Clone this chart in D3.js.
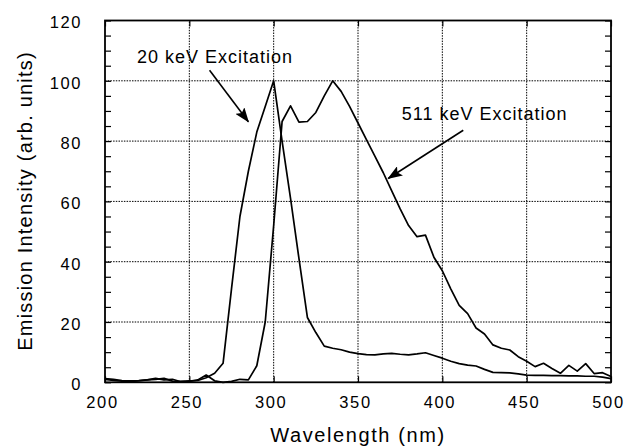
<!DOCTYPE html>
<html>
<head>
<meta charset="utf-8">
<script src="https://cdn.jsdelivr.net/npm/d3@7"></script>
<style>
  body { margin: 0; background: #fff; }
  svg { display: block; font-family: "Liberation Sans", Arial, Helvetica, sans-serif; }
</style>
</head>
<body>
<script>
// wavelength grid (nm), 5 nm steps
const wavelengths = d3.range(200, 501, 5);

// 20 keV excitation spectrum
const intensity20 = [
  1.2, 1.0, 0.6, 0.5, 0.6, 0.8, 1.0, 1.3, 0.4, 0.3,
  0.5, 0.6, 1.5, 3.0, 6.3, 31, 55, 70, 83, 91.5,
  100, 80, 61, 41, 21.5, 16.5, 12, 11.3, 10.8, 10,
  9.5, 9.2, 9.1, 9.4, 9.6, 9.3, 9.1, 9.4, 9.8, 8.9,
  8.0, 7.0, 6.2, 5.7, 5.4, 4.3, 3.3, 3.2, 3.1, 2.8,
  2.4, 2.3, 2.3, 2.2, 2.2, 2.1, 2.1, 2.0, 2.0, 1.7, 1.2
];

// 511 keV excitation spectrum
const intensity511 = [
  1.0, 0.6, 0.4, 0.3, 0.5, 0.8, 1.3, 0.8, 1.0, 0.2,
  0.3, 0.8, 2.4, 0.5, 0.0, 0.3, 1.0, 0.8, 5.5, 20,
  52, 86.5, 91.7, 86.3, 86.5, 89.5, 95, 100, 96.5, 91.5,
  86, 80.5, 75, 69.5, 63.5, 57.5, 52, 48.3, 48.8, 41.5,
  37, 31, 25.5, 22.8, 18, 16, 12.4, 11.3, 10.7, 8.5,
  7, 5.2, 6.3, 4.6, 3, 5.6, 3.7, 6.2, 2.9, 3.2, 1.9
];

const xTicks = [200, 250, 300, 350, 400, 450, 500];
const yTicks = [0, 20, 40, 60, 80, 100, 120];
const yMinor = d3.range(0, 121, 5);

// annotations: label position and arrow start/end, in data units
const notes = [
  { text: "20 keV Excitation", tx: 219, ty: 106, x1: 262, y1: 103.5, x2: 285, y2: 86.4 },
  { text: "511 keV Excitation", tx: 376, ty: 87, x1: 412.4, y1: 83.6, x2: 367.9, y2: 67.6 },
];

const W = 625, H = 446;
const m = { left: 105, right: 14, top: 20.5, bottom: 63.7 };

const x = d3.scaleLinear().domain([200, 500]).range([m.left, W - m.right]);
const y = d3.scaleLinear().domain([0, 120]).range([H - m.bottom, m.top]);

const svg = d3.select("body").append("svg").attr("width", W).attr("height", H);
svg.append("rect").attr("width", W).attr("height", H).attr("fill", "#fff");

const plotW = x(500) - x(200);
const plotH = y(0) - y(120);

// dotted grid
svg.append("g")
  .selectAll("line")
  .data(xTicks.slice(1, -1))
  .join("line")
  .attr("x1", (d) => x(d)).attr("x2", (d) => x(d))
  .attr("y1", y(0)).attr("y2", y(120))
  .attr("stroke", "#000").attr("stroke-width", 1)
  .attr("stroke-dasharray", "1.5,1.2");
svg.append("g")
  .selectAll("line")
  .data(yTicks.slice(1, -1))
  .join("line")
  .attr("x1", x(200)).attr("x2", x(500))
  .attr("y1", (d) => y(d)).attr("y2", (d) => y(d))
  .attr("stroke", "#000").attr("stroke-width", 1)
  .attr("stroke-dasharray", "1.5,1.2");

// inward ticks on all four sides
const tickStyle = (g) => {
  g.select(".domain").remove();
  g.selectAll(".tick line").attr("stroke", "#000").attr("stroke-width", 1.2);
  g.selectAll(".tick text").remove();
};
svg.append("g").attr("transform", `translate(${x(200)},0)`)
  .call(d3.axisLeft(y).tickValues(yMinor).tickSize(-6)).call(tickStyle);
svg.append("g").attr("transform", `translate(${x(500)},0)`)
  .call(d3.axisRight(y).tickValues(yMinor).tickSize(-6)).call(tickStyle);
svg.append("g").attr("transform", `translate(0,${y(0)})`)
  .call(d3.axisBottom(x).tickValues(xTicks).tickSize(-6)).call(tickStyle);
svg.append("g").attr("transform", `translate(0,${y(120)})`)
  .call(d3.axisTop(x).tickValues(xTicks).tickSize(-6)).call(tickStyle);

// tick labels
const labelStyle = (g) => {
  g.select(".domain").remove();
  g.selectAll(".tick line").remove();
  g.selectAll(".tick text")
    .attr("font-size", 16.5)
    .attr("letter-spacing", 1.6)
    .attr("fill", "#000")
    .attr("font-family", "Liberation Sans, Arial, sans-serif");
};
svg.append("g").attr("transform", `translate(${x(200)},0)`)
  .call(d3.axisLeft(y).tickValues(yTicks).tickSize(0).tickPadding(23))
  .call(labelStyle)
  .selectAll(".tick text").attr("dy", "0.45em");
svg.append("g").attr("transform", `translate(0,${y(0)})`)
  .call(d3.axisBottom(x).tickValues(xTicks).tickSize(0).tickPadding(14))
  .call(labelStyle)
  .selectAll(".tick text").attr("dx", -3);

// curves
const line = d3.line()
  .x((d, i) => x(wavelengths[i]))
  .y((d) => y(d));
[intensity20, intensity511].forEach((s) => {
  svg.append("path")
    .datum(s)
    .attr("d", line)
    .attr("fill", "none")
    .attr("stroke", "#000")
    .attr("stroke-width", 1.7)
    .attr("stroke-linejoin", "round");
});

// frame
svg.append("rect")
  .attr("x", x(200)).attr("y", y(120))
  .attr("width", plotW).attr("height", plotH)
  .attr("fill", "none").attr("stroke", "#000").attr("stroke-width", 1.8);

// axis titles
svg.append("text")
  .attr("x", (x(200) + x(500)) / 2)
  .attr("y", 441.5)
  .attr("text-anchor", "middle")
  .attr("font-size", 20)
  .attr("letter-spacing", 1.6)
  .text("Wavelength (nm)");
svg.append("text")
  .attr("transform", `translate(32,201) rotate(-90)`)
  .attr("text-anchor", "middle")
  .attr("font-size", 20)
  .attr("letter-spacing", 1.2)
  .text("Emission Intensity (arb. units)");

// annotations with arrows
svg.append("defs").append("marker")
  .attr("id", "head")
  .attr("markerUnits", "userSpaceOnUse")
  .attr("viewBox", "0 0 15 11")
  .attr("refX", 14).attr("refY", 5.5)
  .attr("markerWidth", 15).attr("markerHeight", 11)
  .attr("orient", "auto")
  .append("path")
  .attr("d", "M0,0 L15,5.5 L0,11 L3,5.5 Z")
  .attr("fill", "#000");

notes.forEach((n) => {
  svg.append("text")
    .attr("x", x(n.tx)).attr("y", y(n.ty))
    .attr("font-size", 18)
    .attr("letter-spacing", 1)
    .text(n.text);
  svg.append("line")
    .attr("x1", x(n.x1)).attr("y1", y(n.y1))
    .attr("x2", x(n.x2)).attr("y2", y(n.y2))
    .attr("stroke", "#000").attr("stroke-width", 1.6)
    .attr("marker-end", "url(#head)");
});
</script>
</body>
</html>
